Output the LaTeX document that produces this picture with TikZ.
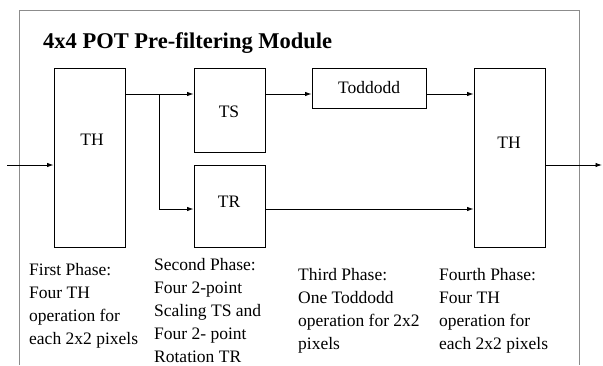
\documentclass[tikz,border=0pt]{standalone}
\usepackage{fontspec}
\setmainfont{Liberation Serif}
\usetikzlibrary{arrows.meta}
\begin{document}
\begin{tikzpicture}[x=1pt,y=-1pt,
  blk/.style={draw=black,line width=0.9pt,minimum width=71pt,inner sep=0pt,font=\fontsize{17.5}{20}\selectfont},
  txt/.style={inner sep=0pt,font=\fontsize{17.5}{20}\selectfont},
  lbl/.style={anchor=north west,inner sep=0pt,align=left,font=\fontsize{17.5}{23}\selectfont},
  conn/.style={line width=0.9pt,-{Latex[length=6.5pt,width=4.5pt]}},
  plain/.style={line width=0.9pt}]
\useasboundingbox (0,0) rectangle (603,365);
% frame
\draw[line width=1pt,black!45] (19,365) -- (19,10) -- (579,10) -- (579,365);
\node[anchor=base west,inner sep=0pt,font=\fontsize{22.5}{26}\selectfont\bfseries] (title) at (43,48) {4x4 POT Pre-filtering Module};
% boxes
\node[blk,minimum height=179pt] (th1) at (89.5,157.5) {};
\node[txt] (th1l) at (92,140) {TH};
\node[blk,minimum height=84pt] (ts) at (229.5,110) {};
\node[txt] (tsl) at (229,112) {TS};
\node[blk,minimum height=82pt] (tr) at (229.5,206) {};
\node[txt] (trl) at (229,202) {TR};
\node[blk,minimum width=114pt,minimum height=40pt] (tod) at (369,88) {Toddodd};
\node[blk,minimum height=179pt] (th2) at (509.5,157.5) {};
\node[txt] (th2l) at (509,143) {TH};
% connectors
\coordinate (in) at (7,165);
\coordinate (out) at (602,165);
\coordinate (j) at (159,94);
\coordinate (jr) at (159,209);
\draw[conn] (in) -- (th1.west |- in);
\draw[conn] (th1.east |- j) -- (ts.west |- j);
\draw[plain] (j) -- (jr);
\draw[conn] (jr) -- (tr.west |- jr);
\draw[conn] (ts.east |- j) -- (tod.west |- j);
\draw[conn] (tod.east |- j) -- (th2.west |- j);
\draw[conn] (tr.east |- jr) -- (th2.west |- jr);
\draw[conn] (th2.east |- out) -- (out);
% phase texts
\node[lbl] (p1) at (29,263) {First Phase:\\Four TH\\operation for\\each 2x2 pixels};
\node[lbl] (p2) at (154,258) {Second Phase:\\Four 2-point\\Scaling TS and\\Four 2- point\\Rotation TR};
\node[lbl] (p3) at (298,268) {Third Phase:\\One Toddodd\\operation for 2x2\\pixels};
\node[lbl] (p4) at (439,268) {Fourth Phase:\\Four TH\\operation for\\each 2x2 pixels};
\end{tikzpicture}
\end{document}
